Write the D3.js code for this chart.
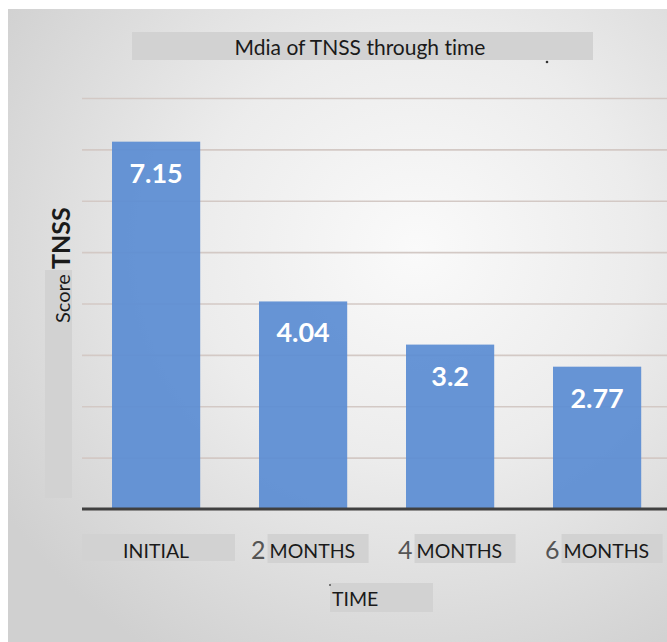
<!DOCTYPE html>
<html>
<head>
    <meta charset="utf-8">
    <title>Mdia of TNSS through time</title>
    <script src="https://d3js.org/d3.v7.min.js"></script>
    <style>
        body { margin: 0; background: #fff; }
        text { font-variant-ligatures: none; }
    </style>
</head>
<body>
    <div id="view"></div>
    <script>
        var categories = ["INITIAL", "2 MONTHS", "4 MONTHS", "6 MONTHS"];
        var values = [7.15, 4.04, 3.2, 2.77];
        var valueLabels = ["7.15", "4.04", "3.2", "2.77"];
        var yTicks = [0, 1, 2, 3, 4, 5, 6, 7, 8];
        var title = "Mdia of TNSS through time";
        var yTitleSmall = "Score";
        var yTitleBig = "TNSS";
        var xTitle = "TIME";

        var width = 667;
        var height = 642;
        var font = "Lato, 'Open Sans', sans-serif";

        var svg = d3.select("#view")
            .append("svg")
            .attr("width", width)
            .attr("height", height)
            .style("display", "block");

        // soft grey background with a lighter centre
        var defs = svg.append("defs");
        var bg = defs.append("radialGradient")
            .attr("id", "bgGrad")
            .attr("cx", "0.62").attr("cy", "0.38").attr("r", "0.75");
        bg.append("stop").attr("offset", "0%").attr("stop-color", "#fafafa");
        bg.append("stop").attr("offset", "45%").attr("stop-color", "#ececec");
        bg.append("stop").attr("offset", "100%").attr("stop-color", "#d0d0d0");

        svg.append("rect")
            .attr("x", 8).attr("y", 9)
            .attr("width", width - 8).attr("height", height - 9)
            .attr("fill", "url(#bgGrad)");

        var x = d3.scaleBand()
            .domain(categories)
            .range([82.6, 670.6])
            .paddingInner(0.4)
            .paddingOuter(0.2);

        var y = d3.scaleLinear()
            .domain([0, 8])
            .range([509, 98]);

        // gridlines
        var grid = svg.append("g")
            .attr("transform", "translate(82,0)")
            .call(d3.axisLeft(y).tickValues(yTicks).tickSize(-(width - 82)).tickFormat(""));
        grid.select(".domain").remove();
        grid.selectAll(".tick line")
            .attr("stroke", "#d3c9c5")
            .attr("stroke-width", 1.6);

        // bars
        svg.selectAll(".bar")
            .data(values)
            .enter()
            .append("rect")
            .attr("class", "bar")
            .attr("x", function (d, i) { return x(categories[i]); })
            .attr("y", function (d) { return y(d); })
            .attr("width", x.bandwidth())
            .attr("height", function (d) { return y(0) - y(d); })
            .attr("fill", "#5b8dd3")
            .attr("fill-opacity", 0.93);

        svg.selectAll(".val")
            .data(values)
            .enter()
            .append("text")
            .attr("class", "val")
            .attr("x", function (d, i) { return x(categories[i]) + x.bandwidth() / 2; })
            .attr("y", function (d) { return y(d) + 41; })
            .attr("text-anchor", "middle")
            .attr("font-family", font)
            .attr("font-weight", "bold")
            .attr("font-size", 27)
            .attr("fill", "#ffffff")
            .text(function (d, i) { return valueLabels[i]; });

        // baseline
        svg.append("line")
            .attr("x1", 82).attr("x2", width)
            .attr("y1", y(0)).attr("y2", y(0))
            .attr("stroke", "#404040")
            .attr("stroke-width", 3);

        // title
        svg.append("rect")
            .attr("x", 132).attr("y", 32)
            .attr("width", 461).attr("height", 28)
            .attr("fill", "#d2d2d2");
        svg.append("text")
            .attr("x", 360).attr("y", 55)
            .attr("text-anchor", "middle")
            .attr("font-family", font)
            .attr("font-size", 21)
            .attr("fill", "#1a1a1a")
            .text(title);
        svg.append("circle")
            .attr("cx", 547).attr("cy", 62).attr("r", 1.3)
            .attr("fill", "#333");

        // y axis title
        svg.append("rect")
            .attr("x", 45).attr("y", 270)
            .attr("width", 27).attr("height", 228)
            .attr("fill", "#d2d2d2");
        var yt = svg.append("text")
            .attr("transform", "translate(70,323) rotate(-90)")
            .attr("font-family", font)
            .attr("fill", "#1a1a1a");
        yt.append("tspan").attr("font-size", 20).text(yTitleSmall + " ");
        yt.append("tspan").attr("font-size", 25).attr("font-weight", "bold").text(yTitleBig);

        // category labels
        categories.forEach(function (c, i) {
            var cx = x(c) + x.bandwidth() / 2;
            var parts = c.split(" ");
            if (parts.length === 1) {
                svg.append("rect")
                    .attr("x", 82).attr("y", 534)
                    .attr("width", 153).attr("height", 27)
                    .attr("fill", "#d2d2d2");
                svg.append("text")
                    .attr("x", cx).attr("y", 558)
                    .attr("text-anchor", "middle")
                    .attr("font-family", font)
                    .attr("font-size", 19.5)
                    .attr("fill", "#1a1a1a")
                    .text(c);
            } else {
                var g = svg.append("g");
                var box = g.append("rect")
                    .attr("y", 534).attr("height", 29)
                    .attr("width", 101)
                    .attr("fill", "#d2d2d2");
                var num = g.append("text")
                    .attr("y", 559)
                    .attr("font-family", font)
                    .attr("font-size", 25)
                    .attr("fill", "#555555")
                    .text(parts[0]);
                var word = g.append("text")
                    .attr("y", 558)
                    .attr("font-family", font)
                    .attr("font-size", 19.5)
                    .attr("fill", "#1a1a1a")
                    .text(parts[1]);
                var nw = num.node().getComputedTextLength();
                var ww = word.node().getComputedTextLength();
                var total = nw + 4 + ww;
                var left = cx - total / 2;
                num.attr("x", left);
                word.attr("x", left + nw + 4);
                box.attr("x", left + nw + 2);
            }
        });

        // x axis title
        svg.append("rect")
            .attr("x", 330).attr("y", 583)
            .attr("width", 103).attr("height", 29)
            .attr("fill", "#d2d2d2");
        svg.append("text")
            .attr("x", 332).attr("y", 606)
            .attr("font-family", font)
            .attr("font-size", 19.5)
            .attr("fill", "#1a1a1a")
            .text(xTitle);
        svg.append("circle")
            .attr("cx", 330).attr("cy", 585).attr("r", 1)
            .attr("fill", "#555");
    </script>
</body>
</html>
